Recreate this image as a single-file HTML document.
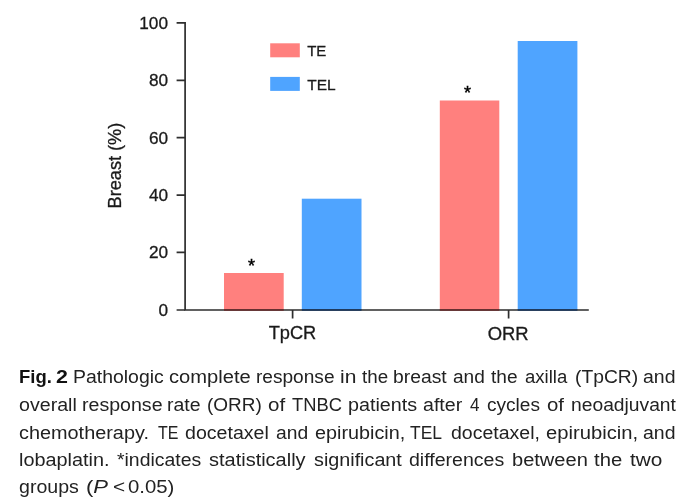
<!DOCTYPE html>
<html lang="en">
<head>
<meta charset="utf-8">
<title>Fig. 2</title>
<style>
html,body{margin:0;padding:0;background:#fff;}
body{width:692px;height:500px;position:relative;overflow:hidden;font-family:"Liberation Sans",Arial,Helvetica,sans-serif;color:#1a1a1a;}
svg{position:absolute;left:0;top:0;}
svg text{font-family:"Liberation Sans",Arial,Helvetica,sans-serif;fill:#1a1a1a;stroke:#1a1a1a;stroke-width:0.3px;}
.cap{position:absolute;left:0;top:0;width:692px;height:500px;font-size:17.5px;color:#222;}
.ln{position:absolute;left:0;width:692px;height:0;}
.w{position:absolute;top:-15.6px;line-height:20px;white-space:pre;transform-origin:0 0;}
.b{font-weight:bold;color:#111;}
</style>
</head>
<body>
<svg width="692" height="500" viewBox="0 0 692 500">
  <!-- bars -->
  <rect x="224" y="273" width="59.7" height="37" fill="#ff807e"/>
  <rect x="301.8" y="198.7" width="59.7" height="111.3" fill="#4fa4ff"/>
  <rect x="439.8" y="100.5" width="59.5" height="209.5" fill="#ff807e"/>
  <rect x="517.7" y="41" width="59.7" height="269" fill="#4fa4ff"/>
  <!-- legend -->
  <rect x="270.2" y="43.3" width="29.6" height="14" fill="#ff807e"/>
  <rect x="270.2" y="76.9" width="29.6" height="14" fill="#4fa4ff"/>
  <text x="307.2" y="56.3" font-size="15">TE</text>
  <text x="307.2" y="89.7" font-size="15" textLength="28.4" lengthAdjust="spacingAndGlyphs">TEL</text>
  <!-- axes -->
  <g stroke="#2e2e2e" stroke-width="1.7" fill="none">
    <path d="M185.1 22V310H588.8"/>
    <path d="M176.6 22.9H185.1M176.6 80.3H185.1M176.6 137.7H185.1M176.6 195.1H185.1M176.6 252.4H185.1M176.6 310H185.1"/>
    <path d="M292.6 310V318.6M508.6 310V318.6"/>
  </g>
  <g stroke-width="1.7" fill="none">
    <path d="M224 310H283.7M439.8 310H499.3" stroke="#6a2b2b"/>
    <path d="M301.8 310H361.5M517.7 310H577.4" stroke="#17365e"/>
  </g>
  <!-- y tick labels -->
  <g font-size="17.2" text-anchor="end">
    <text x="168" y="28.8">100</text>
    <text x="168" y="86.2">80</text>
    <text x="168" y="143.6">60</text>
    <text x="168" y="201">40</text>
    <text x="168" y="258.3">20</text>
    <text x="168" y="315.8">0</text>
  </g>
  <text transform="translate(120.9,165.6) rotate(-90)" font-size="17.8" text-anchor="middle" textLength="85.6" lengthAdjust="spacingAndGlyphs">Breast (%)</text>
  <g font-size="18" text-anchor="middle">
    <text x="292.5" y="339.4" font-size="17.6" textLength="47.6" lengthAdjust="spacingAndGlyphs">TpCR</text>
    <text x="508.2" y="339.7" font-size="17.6" textLength="41" lengthAdjust="spacingAndGlyphs">ORR</text>
  </g>
  <g font-size="18" text-anchor="middle">
    <text x="251.6" y="272" style="stroke-width:0.5px;fill:#000;stroke:#000">*</text>
    <text x="467.6" y="98.9" style="stroke-width:0.5px;fill:#000;stroke:#000">*</text>
  </g>
</svg>
<div class="cap">
  <div class="ln" style="top:382.1px"><span class="w b" style="left:18.84px;transform:scaleX(1.0552)">Fig.</span> <span class="w b" style="left:55.99px;transform:scaleX(1.2235)">2</span> <span class="w" style="left:73.11px;transform:scaleX(1.1100)">Pathologic</span> <span class="w" style="left:169.34px;transform:scaleX(1.1511)">complete</span> <span class="w" style="left:255.71px;transform:scaleX(1.0904)">response</span> <span class="w" style="left:339.80px;transform:scaleX(1.2000)">in</span> <span class="w" style="left:361.63px;transform:scaleX(1.0723)">the</span> <span class="w" style="left:393.20px;transform:scaleX(1.1032)">breast</span> <span class="w" style="left:452.78px;transform:scaleX(1.0899)">and</span> <span class="w" style="left:490.73px;transform:scaleX(1.0894)">the</span> <span class="w" style="left:524.51px;transform:scaleX(1.0599)">axilla</span> <span class="w" style="left:575.10px;transform:scaleX(1.1005)">(TpCR)</span> <span class="w" style="left:643.17px;transform:scaleX(1.1119)">and</span></div>
  <div class="ln" style="top:410.2px"><span class="w" style="left:19.06px;transform:scaleX(1.1216)">overall</span> <span class="w" style="left:81.88px;transform:scaleX(1.1189)">response</span> <span class="w" style="left:167.39px;transform:scaleX(1.1123)">rate</span> <span class="w" style="left:207.32px;transform:scaleX(1.0845)">(ORR)</span> <span class="w" style="left:268.42px;transform:scaleX(1.1714)">of</span> <span class="w" style="left:291.94px;transform:scaleX(1.0481)">TNBC</span> <span class="w" style="left:347.87px;transform:scaleX(1.1280)">patients</span> <span class="w" style="left:423.36px;transform:scaleX(1.1206)">after</span> <span class="w" style="left:470.36px;transform:scaleX(0.9778)">4</span> <span class="w" style="left:487.18px;transform:scaleX(1.0899)">cycles</span> <span class="w" style="left:546.63px;transform:scaleX(1.1643)">of</span> <span class="w" style="left:570.70px;transform:scaleX(1.1003)">neoadjuvant</span></div>
  <div class="ln" style="top:438.1px"><span class="w" style="left:19.05px;transform:scaleX(1.1350)">chemotherapy.</span> <span class="w" style="left:158.37px;transform:scaleX(0.9116)">TE</span> <span class="w" style="left:184.96px;transform:scaleX(1.1192)">docetaxel</span> <span class="w" style="left:275.77px;transform:scaleX(1.1009)">and</span> <span class="w" style="left:315.25px;transform:scaleX(1.1303)">epirubicin,</span> <span class="w" style="left:410.05px;transform:scaleX(0.9984)">TEL</span> <span class="w" style="left:451.06px;transform:scaleX(1.1148)">docetaxel,</span> <span class="w" style="left:546.13px;transform:scaleX(1.1548)">epirubicin,</span> <span class="w" style="left:643.17px;transform:scaleX(1.1119)">and</span></div>
  <div class="ln" style="top:465.6px"><span class="w" style="left:19.07px;transform:scaleX(1.1340)">lobaplatin.</span> <span class="w" style="left:116.72px;transform:scaleX(1.1093)">*indicates</span> <span class="w" style="left:208.83px;transform:scaleX(1.1417)">statistically</span> <span class="w" style="left:313.84px;transform:scaleX(1.1288)">significant</span> <span class="w" style="left:409.46px;transform:scaleX(1.1167)">differences</span> <span class="w" style="left:511.65px;transform:scaleX(1.1453)">between</span> <span class="w" style="left:593.91px;transform:scaleX(1.1574)">the</span> <span class="w" style="left:629.80px;transform:scaleX(1.1886)">two</span></div>
  <div class="ln" style="top:492.7px"><span class="w" style="left:19.06px;transform:scaleX(1.1177)">groups</span> <span class="w" style="left:85.74px;transform:scaleX(1.2606)">(<i>P</i></span> <span class="w" style="left:113.31px;transform:scaleX(1.1886)">&lt;</span> <span class="w" style="left:128.02px;transform:scaleX(1.1608)">0.05)</span></div>
</div>
</body>
</html>
